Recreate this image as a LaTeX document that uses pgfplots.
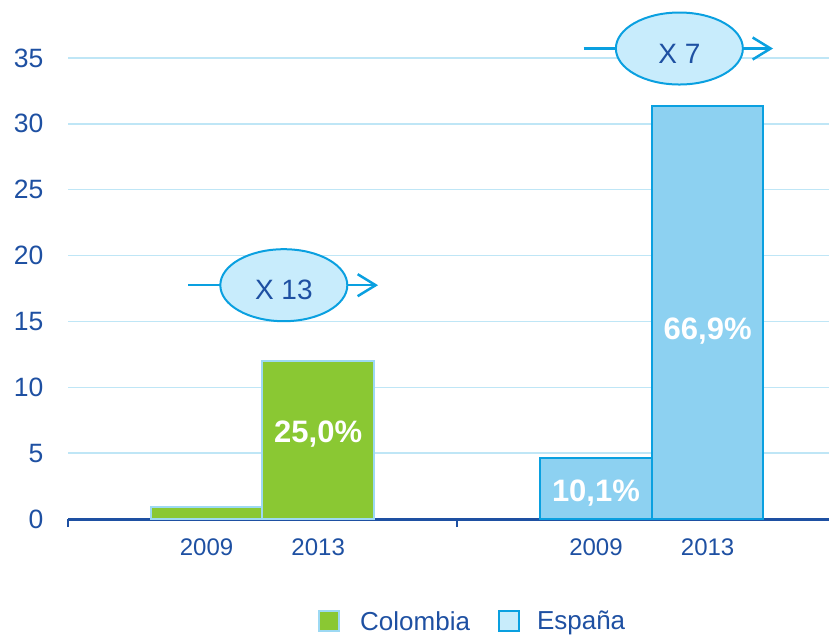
\documentclass[border=0pt]{standalone}
\usepackage{fontspec}
\setmainfont{Liberation Sans}
\usepackage{pgfplots}
\pgfplotsset{compat=1.18}
\usetikzlibrary{arrows.meta}
\definecolor{txtblue}{HTML}{1E50A2}
\definecolor{gridc}{HTML}{BFE6F6}
\definecolor{cgreen}{HTML}{8AC833}
\definecolor{cborder}{HTML}{9DD9F3}
\definecolor{ebar}{HTML}{8DD1F1}
\definecolor{eborder}{HTML}{0AA0E0}
\definecolor{elegend}{HTML}{C8ECFB}
\definecolor{ellfill}{HTML}{C8ECFC}
\begin{document}
\begin{tikzpicture}[x=1pt,y=1pt]
\useasboundingbox (0,0) rectangle (829,637);
\begin{axis}[
  at={(68pt,118pt)}, anchor=south west,
  scale only axis, width=761pt, height=461pt,
  xmin=0, xmax=1.956, ymin=0, ymax=35,
  clip=false,
  axis x line*=bottom, axis y line*=left,
  x axis line style={draw=txtblue, line width=3pt},
  y axis line style={draw=none},
  /pgf/number format/assume math mode=true,
  ytick={0,5,...,35},
  ymajorgrids, grid style={draw=gridc, line width=1.5pt},
  ytick style={draw=none},
  yticklabel style={text=txtblue, font=\fontsize{26.5}{26.5}\selectfont, xshift=-13pt},
  xtick={0.356,0.643,1.357,1.644},
  xticklabels={2009,2013,2009,2013},
  xtick style={draw=none},
  xticklabel style={text=txtblue, font=\fontsize{24}{24}\selectfont, yshift=-8pt},
  tick align=outside, major tick length=8pt,
  extra x ticks={0,1}, extra x tick labels={},
  extra x tick style={xtick style={draw=txtblue, line width=2.5pt}},
  legend style={draw=none, fill=none, at={(0.3285,-0.222)}, anchor=west,
    legend columns=2, font=\fontsize{26}{26}\selectfont, text=txtblue,
    inner sep=0pt,
    /tikz/every even column/.append style={column sep=26pt}},
]
\addplot[ybar, bar width=0.2866, bar shift=0pt, fill=cgreen, draw=cborder, line width=2pt, forget plot]
  coordinates {(0.356,0.93) (0.643,12.02)};
\addplot[ybar, bar width=0.2866, bar shift=0pt, fill=ebar, draw=eborder, line width=2pt, forget plot]
  coordinates {(1.357,4.61) (1.644,31.33)};
\addlegendimage{legend image code/.code={\path[draw=none,fill=none] (0pt,0pt) -- (39pt,0pt); \draw[fill=cgreen, draw=cborder, line width=2pt] (0pt,-10pt) rectangle (20pt,10pt);}}
\addlegendentry{Colombia}
\addlegendimage{legend image code/.code={\path[draw=none,fill=none] (0pt,0pt) -- (36pt,0pt); \draw[fill=elegend, draw=eborder, line width=2pt] (0pt,-10pt) rectangle (20pt,10pt);}}
\addlegendentry{España}
% value labels inside bars
\node[text=white, font=\fontsize{31}{31}\selectfont\bfseries] at (axis cs:0.643,6.45) {25,0\%};
\node[text=white, font=\fontsize{31}{31}\selectfont\bfseries] at (axis cs:1.357,1.98) {10,1\%};
\node[text=white, font=\fontsize{31}{31}\selectfont\bfseries] at (axis cs:1.644,14.28) {66,9\%};
% growth annotation X 13
\draw[draw=eborder, fill=ellfill, line width=2pt] (axis cs:0.5547,17.75) ellipse [x radius=63.5pt, y radius=36pt];
\node[text=txtblue, font=\fontsize{28}{28}\selectfont, yshift=-5pt] at (axis cs:0.5547,17.75) {X 13};
\draw[draw=eborder, line width=2.5pt] (axis cs:0.3085,17.75) -- (axis cs:0.3907,17.75);
\draw[draw=eborder, line width=2.5pt, -{Straight Barb[length=18pt,width=22pt]}] (axis cs:0.7182,17.75) -- (axis cs:0.7969,17.75);
% growth annotation X 7
\draw[draw=eborder, fill=ellfill, line width=2pt] (axis cs:1.5714,35.72) ellipse [x radius=63.5pt, y radius=36pt];
\node[text=txtblue, font=\fontsize{28}{28}\selectfont, yshift=-5pt] at (axis cs:1.5714,35.72) {X 7};
\draw[draw=eborder, line width=2.5pt] (axis cs:1.3252,35.72) -- (axis cs:1.4080,35.72);
\draw[draw=eborder, line width=2.5pt, -{Straight Barb[length=18pt,width=22pt]}] (axis cs:1.7349,35.72) -- (axis cs:1.8121,35.72);
\end{axis}
\end{tikzpicture}
\end{document}
